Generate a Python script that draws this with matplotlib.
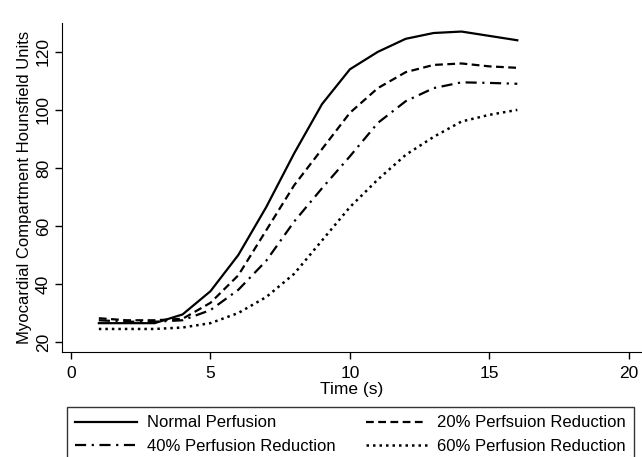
import numpy as np
import matplotlib
matplotlib.use("Agg")
import matplotlib.pyplot as plt

plt.rcParams['font.family'] = ['Liberation Sans', 'DejaVu Sans']

time_s = [1, 2, 3, 4, 5, 6, 7, 8, 9, 10, 11, 12, 13, 14, 15, 16]
normal = [26.5, 26.5, 26.5, 29.5, 37.5, 50, 66.5, 85, 102, 114, 120, 124.5, 126.5, 127, 125.5, 124]
red20 = [28.2, 27.5, 27.5, 28, 33.5, 43, 58.5, 74, 86.5, 99, 107.5, 113, 115.5, 116, 115, 114.5]
red40 = [27.5, 27, 27, 27.5, 31, 38, 48, 61.5, 73, 84, 95.5, 103, 107.5, 109.5, 109.3, 109]
red60 = [24.5, 24.5, 24.5, 25, 26.5, 30, 35.5, 43.5, 55, 66.5, 76, 84.5, 90.7, 96, 98.3, 100]

labels = ['Normal Perfusion', '20% Perfsuion Reduction',
          '40% Perfusion Reduction', '60% Perfusion Reduction']

fig = plt.figure(figsize=(6.42, 4.57), dpi=100)
ax = fig.add_axes([0.0966, 0.23, 0.9034, 0.72])

l1, = ax.plot(time_s, normal, color='black', lw=1.6, ls='-')
l2, = ax.plot(time_s, red20, color='black', lw=1.6, ls=(0, (3.5, 2)))
l3, = ax.plot(time_s, red40, color='black', lw=1.6, ls=(0, (5, 2.5, 1, 2.5)))
l4, = ax.plot(time_s, red60, color='black', lw=1.8, ls=(0, (1, 1.6)))

ax.set_xlim(-0.32, 20.47)
ax.set_ylim(16.6, 130)
ax.set_xticks([0, 5, 10, 15, 20])
ax.set_yticks([20, 40, 60, 80, 100, 120])
ax.spines['top'].set_visible(False)
ax.spines['right'].set_visible(False)
ax.tick_params(labelsize=12.5, length=5, width=1)
ax.tick_params(axis='x', pad=5)
ax.tick_params(axis='y', pad=3)
for lab in ax.get_yticklabels():
    lab.set_rotation(90)
    lab.set_va('center')
ax.set_xlabel('Time (s)', fontsize=12.5, labelpad=1)
ax.set_ylabel('Myocardial Compartment Hounsfield Units', fontsize=12, labelpad=3)

# legend filled row by row: Normal, 20% / 40%, 60%
leg = fig.legend([l1, l3, l2, l4], [labels[0], labels[2], labels[1], labels[3]],
                 ncol=2, loc='upper left', bbox_to_anchor=(67 / 642, 1 - 407 / 457),
                 borderaxespad=0, fontsize=12, frameon=True, fancybox=False,
                 edgecolor='black', handlelength=3.7, handletextpad=0.6,
                 columnspacing=1.8, borderpad=0.5, labelspacing=0.5)
leg.get_frame().set_linewidth(1.0)

fig.savefig('out.png', dpi=100)
